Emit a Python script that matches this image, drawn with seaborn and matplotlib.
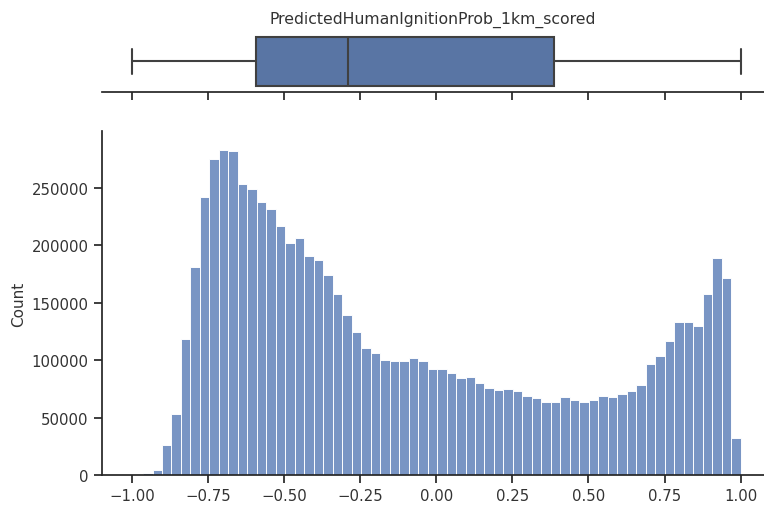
import numpy as np
import pandas as pd
import matplotlib
matplotlib.use("Agg")
import matplotlib.pyplot as plt
import seaborn as sns

sns.set_theme(style="ticks")
plt.rcParams["font.family"] = ["DejaVu Sans"]

column_name = "PredictedHumanIgnitionProb_1km_scored"

# histogram bins (64 bins) and counts
bin_lo, bin_hi, n_bins = -0.995, 1.0, 64
counts = [
    300, 1500, 4400, 25900, 53100, 118500, 181500, 241900,
    275000, 283400, 282000, 253500, 249100, 237800, 231700, 216600,
    201800, 206500, 190800, 187300, 174000, 157400, 139700, 124600,
    110400, 106000, 100200, 99300, 99300, 101600, 99300, 92100,
    92100, 88600, 84200, 85100, 80100, 76100, 74300, 75200,
    73400, 69100, 66800, 63900, 63900, 67700, 65000, 63300,
    65000, 68500, 67700, 70300, 73200, 78400, 96700, 103400,
    116700, 133000, 133000, 129500, 157900, 189000, 171300, 32200,
]

# five-number summary shown by the box (min, Q1, median, Q3, max)
box_summary = [-1.0, -0.594, -0.289, 0.386, 1.0]

edges = np.linspace(bin_lo, bin_hi, n_bins + 1)
hist_df = pd.DataFrame({
    "value": (edges[:-1] + edges[1:]) / 2,
    "count": counts,
})

fig = plt.figure(figsize=(7.64, 5.06), dpi=100)
ax_hist = fig.add_axes([0.133, 0.0593, 0.867, 0.6798])
ax_box = fig.add_axes([0.133, 0.8162, 0.867, 0.1206], sharex=ax_hist)

sns.boxplot(x=box_summary, ax=ax_box, linewidth=1.5, linecolor="#404040")
sns.histplot(data=hist_df, x="value", weights="count",
             bins=n_bins, binrange=(bin_lo, bin_hi), ax=ax_hist)

ax_box.set_title(column_name, fontsize=11.3, color="#333333")
ax_box.set_xlabel("")
ax_box.set_yticks([])
ax_box.tick_params(labelbottom=False)
sns.despine(ax=ax_box, left=True)

ax_hist.set_xlim(-1.1, 1.077)
ax_hist.set_ylim(0, 299600)
ax_hist.set_xticks(np.arange(-1.0, 1.01, 0.25))
ax_hist.set_xlabel("")
ax_hist.set_ylabel("Count", fontsize=11, color="#333333")
ax_hist.tick_params(labelsize=10.7, labelcolor="#333333")
sns.despine(ax=ax_hist)

fig.savefig("out.png", dpi=100, facecolor="white")
